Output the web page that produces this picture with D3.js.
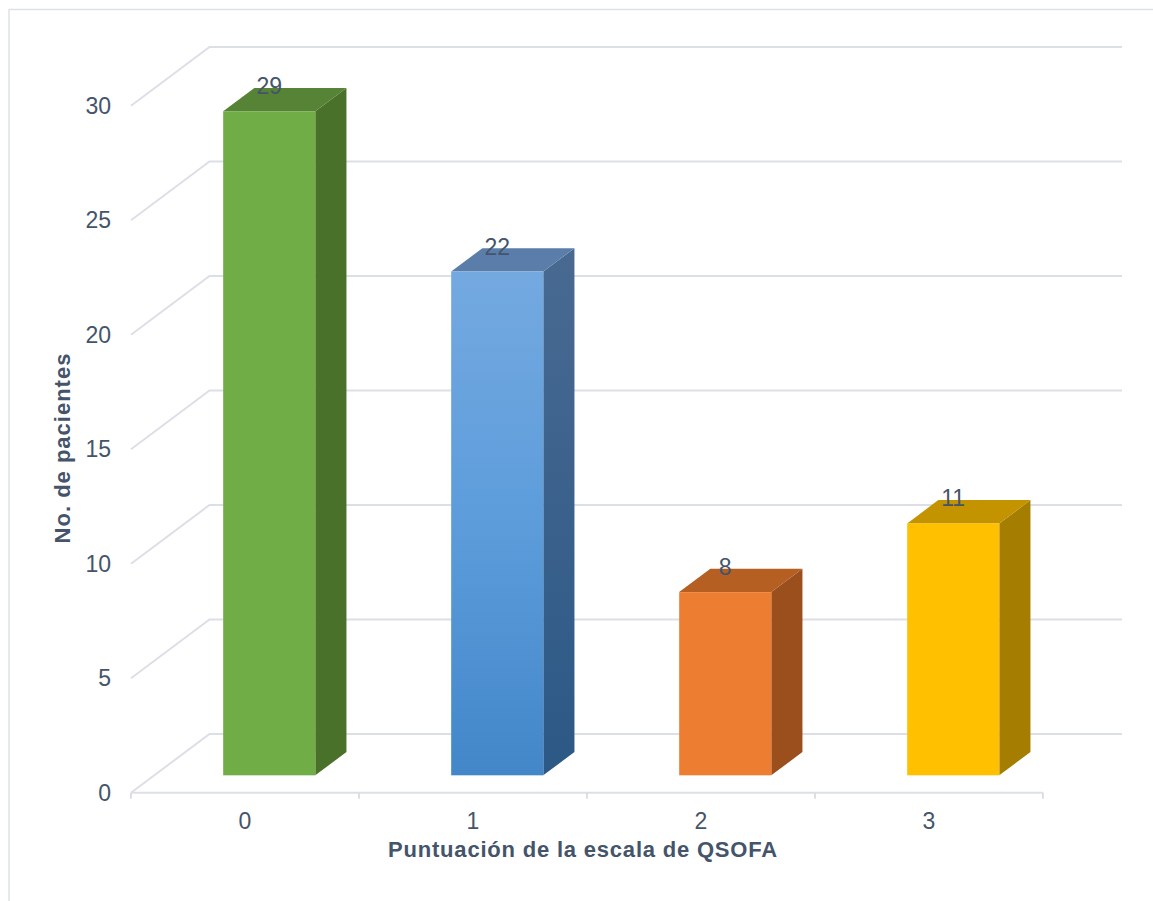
<!DOCTYPE html>
<html>
<head>
<meta charset="utf-8">
<script src="https://cdn.jsdelivr.net/npm/d3@7"></script>
<style>
  html, body { margin: 0; padding: 0; background: #fff; }
  svg { display: block; }
  text { font-family: "Liberation Sans", Arial, sans-serif; fill: #44546A; }
</style>
</head>
<body>
<svg id="chart" width="1153" height="901"></svg>
<script>
// ---- data ----
const categories = ["0", "1", "2", "3"];
const values = [29, 22, 8, 11];
const yTicks = [0, 5, 10, 15, 20, 25, 30];
const xTitle = "Puntuación de la escala de QSOFA";
const yTitle = "No. de pacientes";
const frontColors = ["#70AD47", "url(#blueFront)", "#ED7D31", "#FFC000"];
const topColors = ["#568336", "#5A7EA9", "#B55F23", "#C39300"];
const sideColors = ["#4A7129", "url(#blueSide)", "#9B4F1D", "#A57D00"];

// ---- geometry ----
const svg = d3.select("#chart");
const defs = svg.append("defs");
const gF = defs.append("linearGradient").attr("id", "blueFront").attr("x1", 0).attr("y1", 0).attr("x2", 0).attr("y2", 1);
gF.append("stop").attr("offset", "0%").attr("stop-color", "#74A9E0");
gF.append("stop").attr("offset", "50%").attr("stop-color", "#5C9CDB");
gF.append("stop").attr("offset", "100%").attr("stop-color", "#4387C9");
const gS = defs.append("linearGradient").attr("id", "blueSide").attr("x1", 0).attr("y1", 0).attr("x2", 0).attr("y2", 1);
gS.append("stop").attr("offset", "0%").attr("stop-color", "#486A91");
gS.append("stop").attr("offset", "100%").attr("stop-color", "#2C5886");

// border
svg.append("rect").attr("x", 9).attr("y", 9.5).attr("width", 1300).attr("height", 1000)
  .attr("fill", "none").attr("stroke", "#DDE1E8").attr("stroke-width", 1.5);

const x0 = 131, x1 = 1043;     // front floor edge
const yFloor = 792.7;           // front floor y
const depthX = 78.5, depthY = -58.7; // depth vector front->back
const barFront = 0.296, barDepth = 0.397; // fraction of depth

const x = d3.scaleBand().domain(categories).range([x0, x1]).padding(0);
const y = d3.scaleLinear().domain([0, 30]).range([0, 687]); // height in px

// gridlines: side wall diagonal + back wall horizontal
const grid = svg.append("g");
yTicks.forEach(t => {
  const yf = yFloor - y(t);
  const yb = yf + depthY;
  grid.append("path")
    .attr("d", `M${x0},${yf}L${x0 + depthX},${yb}L${x1 + depthX + 0.5},${yb}`)
    .attr("fill", "none").attr("stroke", "#DCDFE6").attr("stroke-width", 2);
});

// front floor axis line + ticks
svg.append("line").attr("x1", x0).attr("x2", x1).attr("y1", yFloor).attr("y2", yFloor)
  .attr("stroke", "#DCDFE6").attr("stroke-width", 2);
const tickXs = categories.map(c => x(c)).concat([x1]);
svg.selectAll(".xtick").data(tickXs).enter().append("line")
  .attr("x1", d => d).attr("x2", d => d).attr("y1", yFloor).attr("y2", yFloor + 6)
  .attr("stroke", "#DCDFE6").attr("stroke-width", 2);

// y tick labels
svg.selectAll(".ylab").data(yTicks).enter().append("text")
  .attr("x", 111).attr("y", d => yFloor - y(d)).attr("dy", "0.36em")
  .attr("text-anchor", "end").attr("font-size", 23).text(d => d);

// category labels
svg.selectAll(".xlab").data(categories).enter().append("text")
  .attr("x", d => x(d) + x.bandwidth() / 2).attr("y", 829)
  .attr("text-anchor", "middle").attr("font-size", 23).text(d => d);

// bars
const bw = x.bandwidth() * 0.404;
const fdx = depthX * barFront, fdy = depthY * barFront;
const bdx = depthX * barDepth, bdy = depthY * barDepth;
const bars = svg.append("g");
categories.forEach((c, i) => {
  const cx = x(c) + x.bandwidth() / 2 + fdx + 1;
  const left = cx - bw / 2, right = cx + bw / 2;
  const bottom = yFloor + fdy;
  const top = bottom - y(values[i]);
  // side
  bars.append("path")
    .attr("d", `M${right},${bottom}L${right + bdx},${bottom + bdy}L${right + bdx},${top + bdy}L${right},${top}Z`)
    .attr("fill", sideColors[i]);
  // top
  bars.append("path")
    .attr("d", `M${left},${top}L${left + bdx},${top + bdy}L${right + bdx},${top + bdy}L${right},${top}Z`)
    .attr("fill", topColors[i]);
  // front
  bars.append("rect").attr("x", left).attr("y", top).attr("width", bw).attr("height", bottom - top)
    .attr("fill", frontColors[i]);
  // value label
  bars.append("text").attr("x", cx).attr("y", top - 17)
    .attr("text-anchor", "middle").attr("font-size", 23).text(values[i]);
});

// axis titles
svg.append("text").attr("x", 583).attr("y", 857).attr("text-anchor", "middle")
  .attr("font-size", 22).attr("font-weight", "bold").attr("letter-spacing", 0.8).text(xTitle);
svg.append("text").attr("transform", "translate(70,448) rotate(-90)").attr("text-anchor", "middle")
  .attr("font-size", 22).attr("font-weight", "bold").attr("letter-spacing", 1).text(yTitle);
</script>
</body>
</html>
